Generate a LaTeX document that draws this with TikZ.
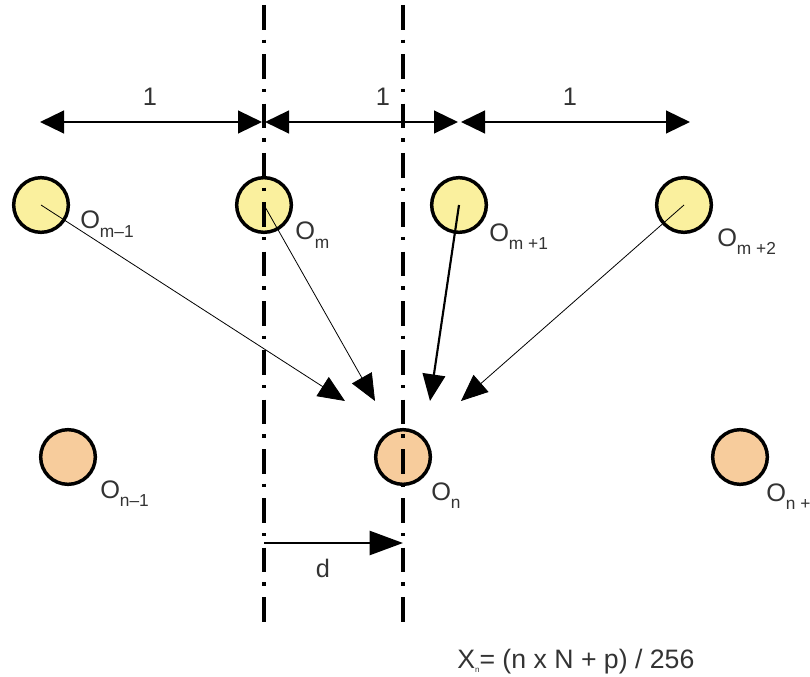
\documentclass[tikz,border=0pt]{standalone}
\usepackage{fontspec}
\setmainfont{Liberation Sans}
\usetikzlibrary{arrows.meta}

\definecolor{objyellow}{HTML}{FAF09E}
\definecolor{objorange}{HTML}{F7CC9C}
\newcommand{\objsub}[1]{O\raisebox{-6pt}{\fontsize{13}{15}\selectfont #1}}

\begin{document}
\begin{tikzpicture}[%
        x=0.75pt, y=-0.75pt,
        upper/.style={circle, draw=black, line width=2.6pt, fill=objyellow, minimum size=41pt, inner sep=0pt},
        lower/.style={circle, draw=black, line width=2.6pt, fill=objorange, minimum size=41pt, inner sep=0pt},
        axisline/.style={line width=#1, dash pattern=on 18.5pt off 7.5pt on 2.5pt off 8.5pt},
        dim/.style={{Triangle[length=18pt, width=17pt]}-{Triangle[length=18pt, width=17pt]}, line width=1.8pt},
        ray/.style={-{Triangle[length=20pt, width=17pt]}, line width=#1},
        lbl/.style={font=\fontsize{19}{22}\selectfont, text=black!80, inner sep=0pt}%
    ]
        \useasboundingbox (0,0) rectangle (810,677);

        \node[upper] (om1) at (41,205) {};
        \node[upper] (om) at (264,205) {};
        \node[upper] (omp1) at (459,205) {};
        \node[upper] (omp2) at (684,205) {};

        \node[lower] (on1) at (68,457) {};
        \node[lower] (on) at (403,457) {};
        \node[lower] (onp1) at (740,457) {};

        \coordinate (ltop) at (264,5);
        \coordinate (lbot) at (264,628);
        \coordinate (rtop) at (403,5);
        \coordinate (rbot) at (403,628);
        \draw[axisline=2.6pt] (ltop) -- (lbot);
        \draw[axisline=3.5pt] (rtop) -- (rbot);

        \coordinate (d0) at (40,122);
        \coordinate (d1) at (262,122);
        \coordinate (d2) at (265,122);
        \coordinate (d3) at (458,122);
        \coordinate (d4) at (461,122);
        \coordinate (d5) at (690,122);
        \draw[dim] (d0) -- (d1);
        \draw[dim] (d2) -- (d3);
        \draw[dim] (d4) -- (d5);
        \node[lbl, anchor=base] (one1) at (150,106) {1};
        \node[lbl, anchor=base] (one2) at (383,106) {1};
        \node[lbl, anchor=base] (one3) at (570,106) {1};

        \coordinate (t1) at (345,401);
        \coordinate (t2) at (375,401);
        \coordinate (t3) at (430,401);
        \coordinate (t4) at (461,401);
        \draw[ray=0.6pt] (om1.center) -- (t1);
        \draw[ray=0.6pt] (om.center) -- (t2);
        \draw[ray=1.6pt] (omp1.center) -- (t3);
        \draw[ray=0.6pt] (omp2.center) -- (t4);

        \node[lbl, anchor=base west] (lom1) at (80,229) {\objsub{m–1}};
        \node[lbl, anchor=base west] (lom) at (295,240) {\objsub{m}};
        \node[lbl, anchor=base west] (lomp1) at (489,242) {\objsub{m +1}};
        \node[lbl, anchor=base west] (lomp2) at (717,247) {\objsub{m +2}};
        \node[lbl, anchor=base west] (lon1) at (100,498) {\objsub{n–1}};
        \node[lbl, anchor=base west] (lon) at (431,500) {\objsub{n}};
        \node[lbl, anchor=base west] (lonp1) at (766,501) {\objsub{n +}};

        \coordinate (dl) at (264,543);
        \coordinate (dr) at (403,543);
        \draw[-{Triangle[length=25pt, width=18pt]}, line width=1.8pt] (dl) -- (dr);
        \node[lbl, anchor=base] (dlbl) at (323,577) {d};

        \node[lbl, anchor=base west, font=\fontsize{20}{24}\selectfont] (formula) at (457,668)
            {X\raisebox{-3pt}{\fontsize{6}{7}\selectfont n}= (n x N + p) / 256};
    \end{tikzpicture}
\end{document}
